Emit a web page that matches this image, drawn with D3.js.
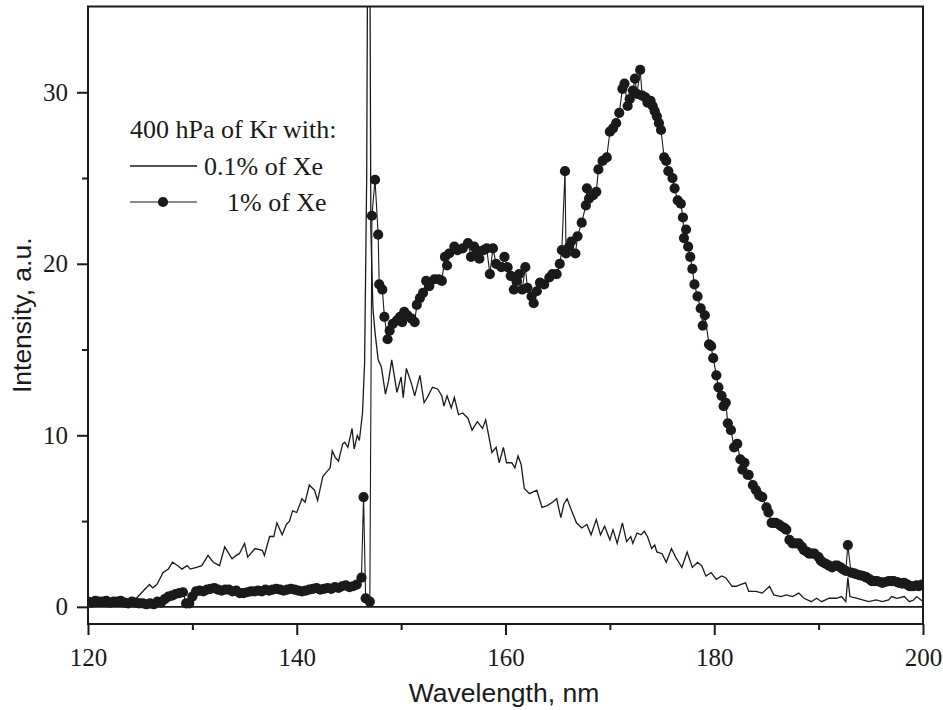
<!DOCTYPE html>
<html>
<head>
<meta charset="utf-8">
<script src="https://cdn.jsdelivr.net/npm/d3@7"></script>
<style>
  html, body { margin: 0; padding: 0; background: #fff; }
  svg { display: block; }
</style>
</head>
<body>
<svg id="chart" width="943" height="710"></svg>
<script>
// ---- Data ----
const xTicks = [120, 140, 160, 180, 200];
const xMinorTicks = [130, 150, 170, 190];
const yTicks = [0, 10, 20, 30];
const yMinorTicks = [5, 15, 25];
const legendTitle = "400 hPa of Kr with:";
const seriesNames = ["0.1% of Xe", "1% of Xe"];

// 0.1% Xe (thin line)
const wl1 = [120.0,120.5,121.0,121.5,122.0,122.5,123.0,123.5,124.0,124.5,124.8,125.4,125.9,126.2,126.6,127.2,127.7,128.1,128.6,129.0,129.5,129.8,130.4,130.9,131.5,132.0,132.6,133.1,133.8,134.2,134.5,135.0,135.3,136.0,136.7,136.9,137.4,137.8,138.1,138.6,139.0,139.3,139.6,140.0,140.5,140.8,141.2,141.7,142.0,142.5,142.9,143.2,143.4,143.7,144.0,144.4,144.6,144.9,145.3,145.5,145.8,146.0,146.3,146.5,146.7,146.8,147.0,147.1,147.3,147.5,147.8,148.1,148.5,148.8,149.1,149.6,150.0,150.2,150.5,151.0,151.3,151.8,152.2,152.5,153.0,153.5,153.9,154.1,154.4,154.8,155.1,155.5,155.9,156.4,156.8,157.3,157.8,158.1,158.7,159.1,159.4,159.8,160.1,160.6,160.9,161.2,161.5,161.8,162.3,163.0,163.5,164.0,164.5,164.9,165.3,165.6,165.9,166.4,166.8,167.3,167.8,168.2,168.7,169.1,169.5,170.0,170.3,170.7,171.2,171.6,172.0,172.2,172.6,173.0,173.3,173.6,174.0,174.3,174.5,175.0,175.4,175.9,176.3,176.6,176.9,177.4,177.9,178.4,178.8,179.2,179.7,180.2,180.7,181.1,181.7,182.1,182.5,183.0,183.3,184.0,184.6,185.3,185.7,186.4,186.9,187.5,188.1,188.6,189.3,189.8,190.3,191.0,191.7,192.2,192.6,192.8,193.0,193.7,194.2,194.8,195.5,196.1,196.7,197.0,197.5,198.2,198.7,199.1,199.4,199.8,200.0];
const int1 = [0.1,0.2,0.1,0.2,0.1,0.2,0.15,0.2,0.3,0.4,0.6,1.0,1.3,1.1,1.3,2.0,2.2,2.6,2.4,2.2,2.4,2.2,2.3,2.4,3.0,2.6,2.4,3.5,2.8,3.0,3.1,3.7,2.9,3.4,3.3,3.0,4.1,4.1,4.9,4.2,4.8,5.0,5.6,5.5,6.3,6.1,7.1,6.8,6.2,7.6,7.9,8.1,9.1,8.7,8.5,9.5,9.6,9.3,10.4,9.2,10.0,9.7,11.3,14.2,25,40,40,22,17.4,16.0,14.4,14.0,12.4,13.2,14.4,12.5,13.4,12.2,13.9,13.0,12.3,13.5,11.9,12.2,12.8,12.7,12.3,11.7,12.3,11.6,12.2,11.2,11.3,11.0,10.3,10.8,10.4,10.9,9.0,9.3,8.4,9.3,8.4,8.4,8.1,8.8,8.3,6.9,6.6,6.8,5.8,5.9,6.1,6.3,5.2,6.0,6.3,5.5,4.9,4.6,4.8,4.2,5.1,4.2,4.7,3.9,4.5,3.7,4.9,3.8,4.1,3.7,4.3,4.2,4.4,4.1,3.4,3.6,3.2,3.1,2.6,3.4,2.9,2.6,2.3,3.2,2.3,2.6,2.4,1.8,2.0,1.6,1.8,1.7,1.2,1.2,1.3,1.4,0.9,0.9,0.8,1.2,0.7,0.6,0.7,0.6,0.8,0.5,0.3,0.5,0.3,0.5,0.5,0.6,0.3,1.7,0.6,0.5,0.4,0.3,0.4,0.3,0.4,0.6,0.5,0.6,0.3,0.4,0.6,0.4,0.35];

// 1% Xe (line + dots)
const wl2 = [120.0,120.35,120.7,121.05,121.4,121.75,122.1,122.45,122.8,123.15,123.5,123.85,124.2,124.55,124.9,125.25,125.6,125.95,126.3,126.65,127.0,127.35,127.7,128.05,128.4,128.75,129.1,129.4,129.7,130.0,130.35,130.7,131.05,131.4,131.75,132.1,132.45,132.8,133.15,133.5,133.85,134.2,134.55,134.9,135.25,135.6,135.95,136.3,136.65,137.0,137.35,137.7,138.05,138.4,138.75,139.1,139.45,139.8,140.15,140.5,140.85,141.2,141.55,141.9,142.25,142.6,142.95,143.3,143.65,144.0,144.35,144.7,145.05,145.4,145.75,146.2,146.4,146.6,147.0,147.2,147.5,147.8,147.9,148.2,148.4,148.7,148.9,149.2,149.6,149.9,150.1,150.3,150.6,151.0,151.3,151.5,151.8,152.1,152.4,152.7,153.2,153.6,153.9,154.2,154.4,154.6,155.1,155.4,155.9,156.4,156.7,157.0,157.2,157.5,157.9,158.2,158.5,158.8,159.1,159.6,159.9,160.2,160.5,160.8,161.1,161.3,161.6,161.9,162.1,162.5,162.7,163.0,163.3,163.7,164.2,164.5,164.9,165.2,165.4,165.7,165.8,166.1,166.3,166.7,166.9,167.3,167.7,167.8,168.0,168.4,168.7,168.9,169.3,169.7,170.0,170.3,170.6,170.9,171.2,171.4,171.7,171.9,172.2,172.4,172.6,172.9,173.1,173.4,173.6,173.9,174.1,174.3,174.5,174.7,174.9,175.2,175.4,175.6,176.0,176.2,176.5,176.8,177.0,177.1,177.3,177.5,177.7,177.9,178.1,178.4,178.7,178.9,179.1,179.5,179.7,179.9,180.2,180.4,180.7,180.9,181.1,181.3,181.6,181.9,182.2,182.5,182.7,182.9,183.2,183.3,183.7,184.0,184.3,184.6,185.0,185.2,185.5,185.7,185.9,186.2,186.4,186.7,186.9,187.2,187.5,187.8,188.1,188.4,188.6,188.9,189.1,189.4,189.6,190.0,190.2,190.4,190.7,191.0,191.3,191.6,191.8,192.1,192.3,192.6,192.8,193.1,193.4,193.6,193.9,194.2,194.5,194.6,194.9,195.1,195.4,195.6,195.9,196.1,196.4,196.7,197.0,197.2,197.5,197.7,198.0,198.2,198.5,198.7,198.9,199.1,199.4,199.6,199.9];
const int2 = [0.3,0.25,0.35,0.3,0.3,0.35,0.25,0.3,0.3,0.35,0.25,0.2,0.3,0.25,0.2,0.2,0.15,0.2,0.15,0.3,0.25,0.45,0.6,0.65,0.75,0.8,0.85,0.2,0.2,0.6,0.9,0.95,0.9,1.0,1.05,1.1,1.0,0.95,1.0,1.0,0.9,0.95,0.8,0.8,0.85,0.9,0.9,0.95,0.9,1.0,0.95,1.0,1.05,1.0,0.95,1.0,1.05,1.0,0.95,0.9,0.95,1.0,1.05,1.1,1.0,1.05,1.1,1.05,1.15,1.1,1.2,1.25,1.15,1.2,1.3,1.7,6.4,0.5,0.3,22.8,24.9,21.7,18.8,18.5,16.9,15.6,16.1,16.5,16.7,16.9,16.6,17.2,17.0,16.8,16.6,17.6,18.0,18.3,19.0,18.7,19.1,19.1,19.0,20.4,19.9,20.6,21.0,20.8,20.9,21.2,20.4,21.0,20.8,20.3,20.8,20.9,19.4,20.9,20.0,19.8,20.4,19.8,19.3,18.5,19.0,19.4,18.5,19.8,18.6,18.1,17.7,18.4,18.9,18.8,19.2,19.4,19.4,20.0,20.8,25.4,20.6,21.0,21.3,20.6,21.6,22.4,23.4,24.4,23.8,24.0,24.2,25.5,26.0,26.2,27.7,27.9,28.2,28.8,30.2,30.5,29.2,29.6,30.1,30.8,29.9,31.3,29.8,29.7,29.4,29.5,29.2,28.9,28.6,28.2,27.8,26.2,26.0,25.4,25.0,24.4,23.7,23.5,22.7,21.5,22.0,21.0,20.4,19.7,18.8,18.1,17.4,16.4,17.0,15.3,15.2,14.5,13.5,12.8,12.3,11.7,11.9,10.7,10.3,9.3,9.5,8.6,8.0,8.4,7.7,7.7,7.1,6.8,6.5,6.4,5.8,5.5,4.9,4.9,4.9,4.8,4.7,4.6,4.5,3.9,3.7,3.7,3.7,3.5,3.3,3.2,3.1,3.1,3.1,2.9,2.7,2.6,2.5,2.4,2.3,2.4,2.4,2.3,2.2,2.1,3.6,2.0,1.95,1.9,1.85,1.8,1.75,1.7,1.6,1.5,1.5,1.5,1.45,1.4,1.45,1.5,1.5,1.5,1.45,1.4,1.35,1.4,1.3,1.2,1.2,1.2,1.25,1.2,1.3];

// ---- Layout ----
const svg = d3.select("#chart");
const L = 88, T = 6.5, R = 923, B = 624;
const x = d3.scaleLinear().domain([120, 200]).range([L, R]);
const y = d3.scaleLinear().domain([-1, 35]).range([B, T]);
const ink = "#1a1a1a";
const serif = "'Liberation Serif', 'Times New Roman', serif";
const sans = "'Liberation Sans', Arial, sans-serif";

svg.append("defs").append("clipPath").attr("id", "plotclip")
  .append("rect").attr("x", L).attr("y", T).attr("width", R - L).attr("height", B - T);

// zero line
svg.append("line").attr("x1", L).attr("x2", R).attr("y1", y(0)).attr("y2", y(0))
  .attr("stroke", ink).attr("stroke-width", 1.6);

const plot = svg.append("g").attr("clip-path", "url(#plotclip)");

const d1 = wl1.map((w, i) => [w, int1[i]]);
const d2 = wl2.map((w, i) => [w, int2[i]]);
const line = d3.line().x(d => x(d[0])).y(d => y(d[1]));

plot.append("path").datum(d1).attr("d", line)
  .attr("fill", "none").attr("stroke", ink).attr("stroke-width", 1.3).attr("stroke-linejoin", "miter");

plot.append("path").datum(d2).attr("d", line)
  .attr("fill", "none").attr("stroke", ink).attr("stroke-width", 1.1);
plot.selectAll("circle.dot").data(d2).enter().append("circle")
  .attr("class", "dot").attr("cx", d => x(d[0])).attr("cy", d => y(d[1])).attr("r", 5.1)
  .attr("fill", ink);

// frame
svg.append("rect").attr("x", L).attr("y", T).attr("width", R - L).attr("height", B - T)
  .attr("fill", "none").attr("stroke", ink).attr("stroke-width", 2);

// axes
const gx = svg.append("g").attr("transform", `translate(0,${B})`)
  .call(d3.axisBottom(x).tickValues(xTicks).tickFormat(d3.format("d")).tickSize(11).tickPadding(13));
const gxm = svg.append("g").attr("transform", `translate(0,${B})`)
  .call(d3.axisBottom(x).tickValues(xMinorTicks).tickFormat("").tickSize(6));
const gy = svg.append("g").attr("transform", `translate(${L},0)`)
  .call(d3.axisLeft(y).tickValues(yTicks).tickFormat(d3.format("d")).tickSize(11).tickPadding(9));
const gym = svg.append("g").attr("transform", `translate(${L},0)`)
  .call(d3.axisLeft(y).tickValues(yMinorTicks).tickFormat("").tickSize(6));
[gx, gxm, gy, gym].forEach(g => {
  g.attr("font-family", serif).attr("font-size", 25);
  g.select(".domain").remove();
  g.selectAll(".tick line").attr("stroke", ink).attr("stroke-width", 2);
  g.selectAll(".tick text").attr("fill", ink)
    .style("font-family", serif).style("font-size", "25px");
});

// axis titles
svg.append("text").attr("x", 504).attr("y", 702).attr("text-anchor", "middle")
  .style("font-family", sans).style("font-size", "26.5px").attr("fill", ink)
  .text("Wavelength, nm");
svg.append("text").attr("transform", `translate(31,${(T + B) / 2}) rotate(-90)`).attr("text-anchor", "middle")
  .style("font-family", sans).style("font-size", "26.5px").attr("fill", ink)
  .text("Intensity, a.u.");

// legend
const lg = svg.append("g").style("font-family", serif).style("font-size", "26px");
lg.append("text").attr("x", 130).attr("y", 138).attr("fill", ink).text(legendTitle);
lg.append("line").attr("x1", 130).attr("x2", 197).attr("y1", 166).attr("y2", 166)
  .attr("stroke", ink).attr("stroke-width", 1.3);
lg.append("text").attr("x", 204).attr("y", 175).attr("fill", ink).text(seriesNames[0]);
lg.append("line").attr("x1", 130).attr("x2", 197).attr("y1", 202).attr("y2", 202)
  .attr("stroke", ink).attr("stroke-width", 1.1);
lg.append("circle").attr("cx", 163).attr("cy", 202).attr("r", 5.1).attr("fill", ink);
lg.append("text").attr("x", 227).attr("y", 211).attr("fill", ink).text(seriesNames[1]);
</script>
</body>
</html>
